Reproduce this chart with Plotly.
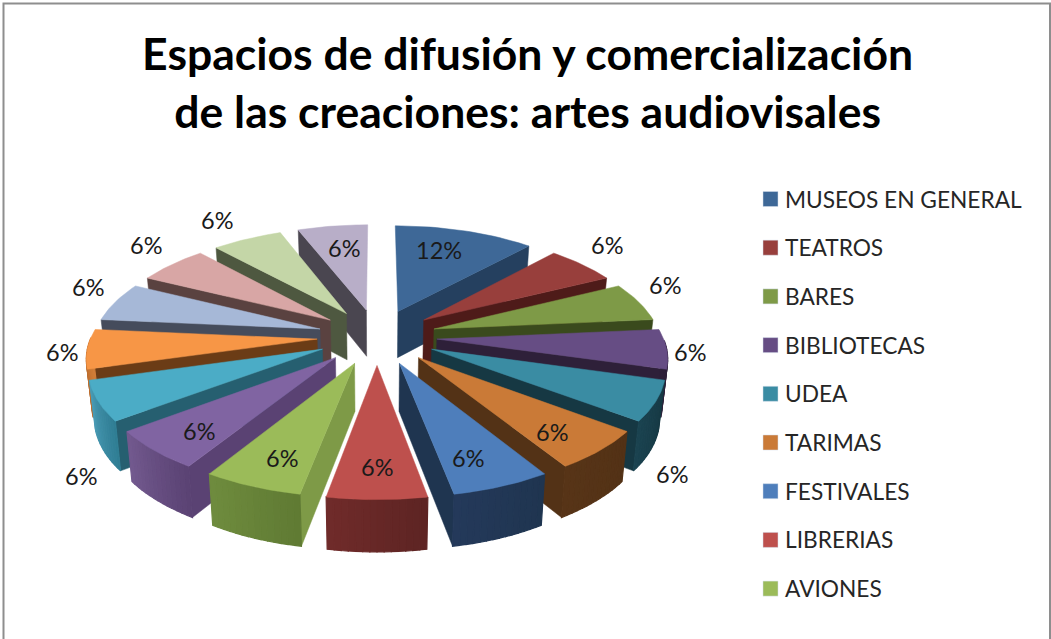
"""Exploded 3D pie: espacios de difusion, artes audiovisuales."""
import math
import plotly.graph_objects as go

TITLE = "Espacios de difusión y comercialización<br>de las creaciones: artes audiovisales"
# only nine names are shown in the legend of the original, the other slices have no name
CATEGORIES = ["MUSEOS EN GENERAL", "TEATROS", "BARES", "BIBLIOTECAS", "UDEA", "TARIMAS",
              "FESTIVALES", "LIBRERIAS", "AVIONES"]
VALUES = [2, 1, 1, 1, 1, 1, 1, 1, 1, 1, 1, 1, 1, 1, 1, 1]

TOP_COLORS = ["#3e6897", "#983f3c", "#7e9a47", "#664d84", "#3a8ca3", "#ca7a37", "#4e7ebb", "#be504d",
              "#9bbb59", "#8064a2", "#4bacc6", "#f79646", "#a6b8d7", "#d8a6a5", "#c4d6a7", "#b8aec8"]
CUT_COLORS = ["#25405f", "#4e1b19", "#3a4a1d", "#2e2039", "#163843", "#533216", "#1f3550", "#652726",
              "#7e9a47", "#5a4273", "#265f70", "#6b3c16", "#454c5c", "#5a4240", "#4e5840", "#4a4650"]
WALL_COLORS = [("#25405f", "#25405f"), ("#4e1b19", "#4e1b19"), ("#3a4a1d", "#3a4a1d"), ("#2e2039", "#2e2039"),
               ("#163843", "#1b4350"), ("#533216", "#573417"), ("#1f3550", "#24395a"), ("#5d2423", "#702b2a"),
               ("#5f7a33", "#6f8c3e"), ("#5a4273", "#735a8f"), ("#2f7d93", "#4a9bb5"), ("#b5672a", "#d9843c"),
               ("#6b7c96", "#6b7c96"), ("#8a6a69", "#8a6a69"), ("#7f8c6a", "#7f8c6a"), ("#6f6880", "#6f6880")]

# percent labels sit by hand where Excel left them (screen pixels)
LABEL_X = [439, 607, 665, 690, 672, 552, 468, 377, 282, 199, 81, 62, 88, 146, 217, 344]
LABEL_Y = [250, 245, 285, 352, 474, 432, 458, 467, 458, 431, 476, 352, 287, 245, 220, 248]

# projection of the pie onto the screen
CX, CY = 377, 336.5
RX, RY = 226, 105
PERSPECTIVE = 0.147
EXPLODE = 0.265
# legend block
LEGEND_SWATCH_X, LEGEND_TEXT_X = 770.5, 785
LEGEND_TOP, LEGEND_STEP = 199, 48.7


def project(x, y, bottom=False):
    w = 1 / (1 + PERSPECTIVE * y)
    sx = CX + RX * x * w
    sy = CY - RY * y * w
    if bottom:
        sx = CX + (sx - CX) * 0.98
        sy += 24 + 23 * w
    return sx, sy


def mix(c0, c1, t):
    a = [int(c0[i:i + 2], 16) for i in (1, 3, 5)]
    b = [int(c1[i:i + 2], 16) for i in (1, 3, 5)]
    return "#" + "".join(f"{round(p + (q - p) * t):02x}" for p, q in zip(a, b))


def add_face(fig, pts, color, lw=0.5):
    fig.add_scatter(x=[p[0] for p in pts] + [pts[0][0]], y=[p[1] for p in pts] + [pts[0][1]],
                    mode="lines", fill="toself", fillcolor=color,
                    line=dict(color=color, width=lw), hoverinfo="skip", showlegend=False)


def add_slice(fig, t0, t1, i):
    mid = (t0 + t1) / 2
    ox, oy = EXPLODE * math.sin(mid), EXPLODE * math.cos(mid)

    def rim(t, bottom=False):
        return project(ox + math.sin(t), oy + math.cos(t), bottom)

    # cut faces, only the one turned towards the viewer
    if math.sin(t1) > 1e-9:
        add_face(fig, [project(ox, oy), rim(t1), rim(t1, True), project(ox, oy, True)], CUT_COLORS[i])
    if math.sin(t0) < -1e-9:
        add_face(fig, [project(ox, oy), rim(t0), rim(t0, True), project(ox, oy, True)], CUT_COLORS[i])
    # outer wall in thin strips to fake the gradient
    n = 14
    for k in range(n):
        a, b = t0 + (t1 - t0) * k / n, t0 + (t1 - t0) * (k + 1) / n
        if math.cos((a + b) / 2) < 0:
            add_face(fig, [rim(a), rim(b), rim(b, True), rim(a, True)],
                     mix(WALL_COLORS[i][0], WALL_COLORS[i][1], (k + 0.5) / n), lw=1.2)
    # top
    arc = [rim(t0 + (t1 - t0) * k / 24) for k in range(25)]
    add_face(fig, [project(ox, oy)] + arc, TOP_COLORS[i])


fig = go.Figure()
total = sum(VALUES)
angles = [0]
for v in VALUES:
    angles.append(angles[-1] + v / total * 2 * math.pi)

# painter's order: back slices first
order = sorted(range(len(VALUES)), key=lambda i: -math.cos((angles[i] + angles[i + 1]) / 2))
for i in order:
    add_slice(fig, angles[i], angles[i + 1], i)

for i, v in enumerate(VALUES):
    fig.add_annotation(x=LABEL_X[i], y=LABEL_Y[i], text=f"{round(v / total * 100)}%", showarrow=False,
                       font=dict(family="Lato", size=23.5, color="#1a1a1a"))

# legend drawn on the plot: the original spacing can't be had from the built-in one
legend_y = [LEGEND_TOP + LEGEND_STEP * i for i in range(len(CATEGORIES))]
fig.add_scatter(x=[LEGEND_SWATCH_X] * len(CATEGORIES), y=legend_y, mode="markers", showlegend=False,
                hovertext=CATEGORIES, hoverinfo="text",
                marker=dict(symbol="square", size=15, color=TOP_COLORS[:len(CATEGORIES)],
                            line=dict(color="#d5deea", width=0.5)))
for name, y in zip(CATEGORIES, legend_y):
    fig.add_annotation(x=LEGEND_TEXT_X, y=y, text=name, showarrow=False, xanchor="left",
                       xshift=-2, font=dict(family="Lato", size=22.7, color="#262626"))

# chart frame
fig.add_shape(type="rect", x0=3.5, y0=3.5, x1=1050, y1=660, line=dict(color="#8e8e8e", width=2))

fig.update_layout(
    width=1051, height=639, margin=dict(l=0, r=0, t=0, b=0), showlegend=False,
    paper_bgcolor="white", plot_bgcolor="white",
    title=dict(text=f"<b>{TITLE}</b>", x=0.502, xanchor="center", y=0.89, yanchor="top",
               font=dict(family="Lato", size=44.5, color="black")),
    xaxis=dict(visible=False, range=[0, 1051], fixedrange=True),
    yaxis=dict(visible=False, range=[639, 0], fixedrange=True),
)
fig.write_html("out.html", config=dict(displayModeBar=False),
               post_script="document.body.style.margin='0';")
